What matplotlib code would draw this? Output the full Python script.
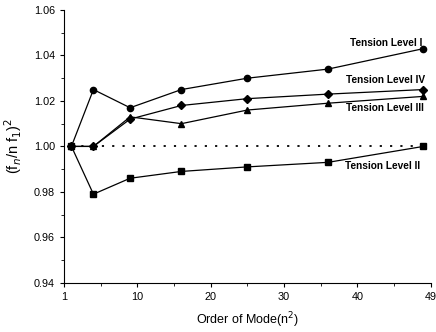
import matplotlib.pyplot as plt
from matplotlib.ticker import MultipleLocator, FixedLocator

# ====== DATA ======
modes = [1, 4, 9, 16, 25, 36, 49]
level_1 = [1.000, 1.025, 1.017, 1.025, 1.030, 1.034, 1.043]
level_4 = [1.000, 1.000, 1.012, 1.018, 1.021, 1.023, 1.025]
level_3 = [1.000, 1.000, 1.013, 1.010, 1.016, 1.019, 1.022]
level_2 = [1.000, 0.979, 0.986, 0.989, 0.991, 0.993, 1.000]

# the original axis starts at 0 but its first tick is labelled "1", last "49"
x_tick_pos = [0, 10, 20, 30, 40, 50]
x_tick_labels = ["1", "10", "20", "30", "40", "49"]
y_ticks = [0.94, 0.96, 0.98, 1.00, 1.02, 1.04, 1.06]

# ====== PLOT ======
plt.rcParams['font.family'] = ['Liberation Sans', 'DejaVu Sans']
fig = plt.figure(figsize=(4.36, 3.32), dpi=100)
ax = fig.add_axes([0.147, 0.148, 0.841, 0.822])

kw = dict(color="black", lw=0.9, markersize=4.5)
ax.plot(modes, level_1, marker="o", **kw)
ax.plot(modes, level_4, marker="D", **dict(kw, markersize=4))
ax.plot(modes, level_3, marker="^", **kw)
ax.plot(modes, level_2, marker="s", **dict(kw, markersize=3.8))
ax.plot([1, 49], [1.0, 1.0], color="black", lw=1.3, ls=(0, (1.2, 4.5)))

lab = dict(fontsize=7.3, fontweight="bold", ha="right", va="center")
ax.text(48.8, 1.0455, "Tension Level I", **lab)
ax.text(49.2, 1.029, "Tension Level IV", **lab)
ax.text(49.0, 1.017, "Tension Level III", **lab)
ax.text(48.6, 0.9912, "Tension Level II", **lab)

ax.set_xlim(0, 50)
ax.set_ylim(0.94, 1.06)
ax.xaxis.set_major_locator(FixedLocator(x_tick_pos))
ax.set_xticklabels(x_tick_labels)
ax.xaxis.set_minor_locator(FixedLocator([5, 15, 25, 35, 45]))
ax.yaxis.set_major_locator(FixedLocator(y_ticks))
ax.yaxis.set_minor_locator(MultipleLocator(0.01))
ax.set_yticklabels([f"{v:.2f}" for v in y_ticks])

for side in ["top", "right"]:
    ax.spines[side].set_visible(False)
ax.tick_params(labelsize=7.8, direction="out", length=3, width=0.8)
ax.tick_params(which="minor", length=2, width=0.6)

ax.set_xlabel("Order of Mode(n$^2$)", fontsize=9, labelpad=6)
ax.set_ylabel("(f$_n$/n f$_1$)$^2$", fontsize=10.5, labelpad=7)

plt.savefig("out.png", dpi=100)
